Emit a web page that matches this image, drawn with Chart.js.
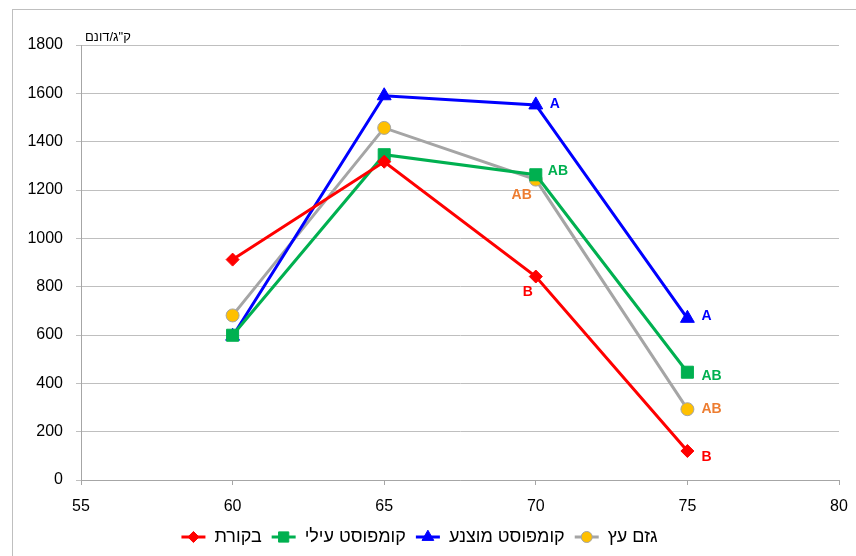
<!DOCTYPE html>
<html>
<head>
<meta charset="utf-8">
<script src="https://cdn.jsdelivr.net/npm/chart.js@4/dist/chart.umd.min.js"></script>
<style>
  body { margin: 0; background: #fff; }
  #wrap { width: 856px; height: 556px; }
</style>
</head>
<body>
<div id="wrap"><canvas id="yieldChart" width="856" height="556"></canvas></div>
<script>
// data
const xValues = [60, 65, 70, 75];
const controlValues = [912, 1317, 842, 120];
const surfaceCompost = [599, 1346, 1263, 446];
const buriedCompost = [595, 1590, 1552, 669];
const woodChips = [681, 1457, 1243, 293];

const seriesNames = ['בקורת', 'קומפוסט עילי', 'קומפוסט מוצנע', 'גזם עץ'];
// significance letters per point (null = none)
const controlLetters = [null, null, 'B', 'B'];
const surfaceLetters = [null, null, 'AB', 'AB'];
const buriedLetters = [null, null, 'A', 'A'];
const woodLetters = [null, null, 'AB', 'AB'];

const yTitle = 'ק"ג/דונם';
const FONT = "'Liberation Sans', Arial, sans-serif";

function toPoints(values) {
    return values.map((v, i) => ({ x: xValues[i], y: v }));
}

// where each letter sits relative to its point: [dx, dy, align]
const letterPlacement = {
    0: [[0, 0, 'left'], [0, 0, 'left'], [-3, 16, 'right'], [14, 6, 'left']],
    1: [[0, 0, 'left'], [0, 0, 'left'], [12, -4, 'left'], [14, 4, 'left']],
    2: [[0, 0, 'left'], [0, 0, 'left'], [14, -1, 'left'], [14, -2, 'left']],
    3: [[0, 0, 'left'], [0, 0, 'left'], [-4, 16, 'right'], [14, 0, 'left']]
};
const letterColors = ['#FF0000', '#00B050', '#0000FF', '#ED7D31'];
const allLetters = [controlLetters, surfaceLetters, buriedLetters, woodLetters];

const lettersPlugin = {
    id: 'letters',
    afterDatasetsDraw(chart) {
        const ctx = chart.ctx;
        ctx.save();
        ctx.font = 'bold 14px ' + FONT;
        ctx.textBaseline = 'middle';
        chart.data.datasets.forEach((ds, di) => {
            const meta = chart.getDatasetMeta(di);
            allLetters[di].forEach((txt, i) => {
                if (!txt) return;
                const pt = meta.data[i];
                const p = letterPlacement[di][i];
                ctx.fillStyle = letterColors[di];
                ctx.textAlign = p[2];
                ctx.fillText(txt, pt.x + p[0], pt.y + p[1]);
            });
        });
        // unit label above the y axis
        const area = chart.chartArea;
        ctx.font = '13px ' + FONT;
        ctx.fillStyle = '#000';
        ctx.textAlign = 'left';
        ctx.textBaseline = 'bottom';
        ctx.fillText(yTitle, area.left + 4, area.top - 1);
        ctx.restore();
    }
};

// legend entries drawn as line + marker like the original
const legendLinePlugin = {
    id: 'legendLine',
    afterDraw(chart) {
        const legend = chart.legend;
        if (!legend || !legend.legendHitBoxes) return;
        const ctx = chart.ctx;
        const bw = legend.options.labels.boxWidth;
        legend.legendHitBoxes.forEach((box, i) => {
            const ds = chart.data.datasets[i];
            const cy = box.top + box.height / 2;
            const cx = box.left + bw / 2;
            ctx.save();
            ctx.strokeStyle = ds.borderColor;
            ctx.lineWidth = 3;
            ctx.beginPath();
            ctx.moveTo(box.left, cy);
            ctx.lineTo(box.left + bw, cy);
            ctx.stroke();
            ctx.fillStyle = ds.pointBackgroundColor;
            ctx.strokeStyle = ds.pointBorderColor;
            ctx.lineWidth = ds.pointBorderWidth;
            Chart.helpers.drawPoint(ctx, {
                pointStyle: ds.pointStyle,
                radius: ds.pointRadius * 0.85,
                rotation: 0,
                borderWidth: ds.pointBorderWidth
            }, cx, cy);
            ctx.restore();
        });
    }
};

const bgPlugin = {
    id: 'bg',
    beforeDraw(chart) {
        const ctx = chart.ctx;
        ctx.save();
        ctx.fillStyle = '#fff';
        ctx.fillRect(0, 0, chart.width, chart.height);
        ctx.strokeStyle = '#BFBFBF';
        ctx.lineWidth = 1;
        ctx.strokeRect(12.5, 9.5, chart.width + 20, chart.height + 20);
        ctx.restore();
    }
};

function makeDataset(label, values, color, style, radius, fill, border) {
    return {
        label: label,
        data: toPoints(values),
        borderColor: color,
        backgroundColor: fill,
        borderWidth: 3,
        pointStyle: style,
        pointRadius: radius,
        pointHoverRadius: radius,
        pointBackgroundColor: fill,
        pointBorderColor: border,
        pointBorderWidth: 1,
        tension: 0
    };
}

const ctx = document.getElementById('yieldChart');
new Chart(ctx.getContext('2d'), {
    type: 'line',
    data: {
        datasets: [
            makeDataset(seriesNames[0], controlValues, '#FF0000', 'rectRot', 6.5, '#FF0000', '#FF0000'),
            makeDataset(seriesNames[1], surfaceCompost, '#00B050', 'rect', 8.5, '#00B050', '#00B050'),
            makeDataset(seriesNames[2], buriedCompost, '#0000FF', 'triangle', 8, '#0000FF', '#0000FF'),
            makeDataset(seriesNames[3], woodChips, '#A5A5A5', 'circle', 6.5, '#FFC000', '#A5A5A5')
        ]
    },
    options: {
        responsive: false,
        animation: false,
        layout: { padding: { left: 0, right: 17, top: 45, bottom: 0 } },
        plugins: {
            legend: {
                position: 'bottom',
                labels: {
                    boxWidth: 24,
                    boxHeight: 12,
                    padding: 10,
                    color: '#000',
                    font: { family: FONT, size: 18 },
                    generateLabels(chart) {
                        return chart.data.datasets.map((ds, i) => ({
                            text: ds.label,
                            fillStyle: 'rgba(0,0,0,0)',
                            strokeStyle: 'rgba(0,0,0,0)',
                            lineWidth: 0,
                            fontColor: '#000',
                            datasetIndex: i
                        }));
                    }
                }
            },
            tooltip: { enabled: false }
        },
        scales: {
            x: {
                type: 'linear',
                min: 55,
                max: 80,
                ticks: { stepSize: 5, color: '#000', font: { family: FONT, size: 16 }, padding: 12 },
                grid: { drawOnChartArea: false, drawTicks: true, tickLength: 5, color: '#A6A6A6' },
                border: { color: '#A6A6A6', width: 1 },
                afterFit(scale) {
                    scale.height = 38;
                    scale.paddingRight = 0;
                    scale.paddingLeft = 0;
                }
            },
            y: {
                min: 0,
                max: 1800,
                ticks: {
                    stepSize: 200,
                    color: '#000',
                    font: { family: FONT, size: 16 },
                    padding: 13,
                    callback: (v) => String(v)
                },
                grid: { color: '#BFBFBF', drawTicks: true, tickLength: 5 },
                border: { color: '#A6A6A6', width: 1 },
                afterFit(scale) { scale.width = 81; }
            }
        }
    },
    plugins: [bgPlugin, lettersPlugin, legendLinePlugin]
});
</script>
</body>
</html>
